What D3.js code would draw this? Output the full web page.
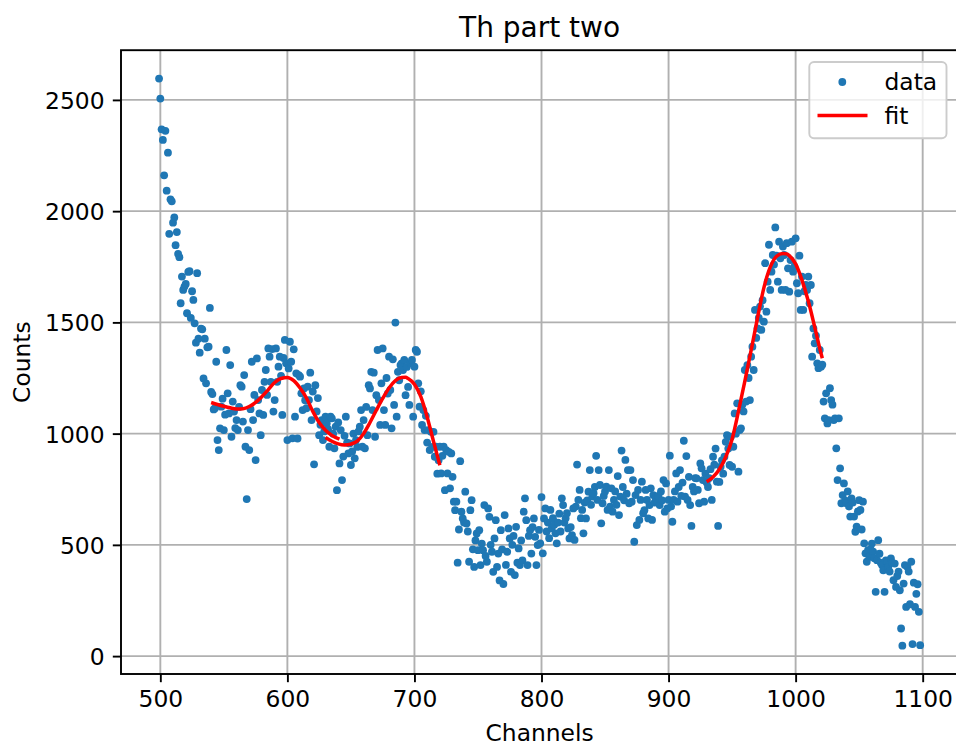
<!DOCTYPE html>
<html>
<head>
<meta charset="utf-8">
<script src="https://cdn.jsdelivr.net/npm/d3@7"></script>
<style>
  html, body { margin: 0; padding: 0; background: #fff; }
  svg { display: block; font-family: "DejaVu Sans", sans-serif; }
</style>
</head>
<body>
<svg id="chart" width="956" height="746"></svg>
<script>
// Spectrum counts, one value per channel starting at channel 499
const firstChannel = 499;
const counts = [
  2596, 2506, 2368, 2320, 2161, 2361, 2092, 2263, 1898, 2053, 2044,
  1948, 1972, 1847, 1906, 1808, 1793, 1586, 1706, 1646, 1661,
  1673, 1541, 1727, 1730, 1520, 1640, 1601, 1496, 1409, 1721,
  1427, 1364, 1472, 1469, 1248, 1427, 1226, 1388, 1391, 1565,
  1187, 1178, 1109, 1114, 1323, 971, 926, 1024, 1121, 1157,
  1016, 1085, 1376, 1181, 1091, 1308, 986, 1144, 1099, 1025,
  1061, 1016, 1120, 1218, 1211, 1054, 1263, 941, 706, 1016,
  926, 1110, 1323, 1061, 1174, 881, 1338, 1151, 1091, 993,
  1196, 1084, 1233, 1286, 1174, 1383, 1346, 1233, 1380, 1099,
  1151, 1383, 1233, 1301, 1346, 1260, 1084, 1340, 1421, 1316,
  971, 1293, 1413, 1323, 979, 1379, 1076, 1271, 978, 1263,
  1256, 1181, 1106, 1203, 1150, 1114, 1211, 1151, 1274, 1061,
  1189, 862, 1218, 1100, 1160, 993, 1040, 1061, 971, 1010,
  1076, 1046, 1020, 941, 1076, 1069, 1000, 934, 1031, 746,
  1050, 866, 1016, 791, 897, 990, 1076, 960, 911, 956,
  859, 920, 1000, 889, 971, 940, 1010, 1031, 1106, 941,
  1061, 934, 1120, 993, 1218, 1203, 1278, 1106, 1274, 986,
  1173, 1376, 1151, 1039, 1226, 1383, 1106, 1039, 1250, 1180,
  1346, 1196, 1024, 1334, 1129, 1499, 1076, 1278, 1240, 1308,
  1316, 1286, 1331, 1173, 1300, 1210, 1129, 1316, 1331, 1076,
  1301, 1376, 1368, 1226, 1121, 1190, 1039, 1106, 1016, 1080,
  960, 1016, 926, 1008, 940, 1008, 896, 941, 820, 880,
  941, 821, 900, 941, 746, 926, 821, 918, 754, 911,
  806, 694, 656, 694, 420, 569, 876, 649, 619, 600,
  739, 596, 560, 424, 656, 701, 480, 401, 520, 551,
  476, 566, 409, 506, 476, 679, 450, 424, 664, 626,
  500, 469, 379, 529, 611, 401, 461, 340, 566, 480,
  324, 634, 410, 469, 574, 529, 379, 500, 540, 364,
  581, 420, 484, 409, 520, 430, 649, 709, 611, 409,
  540, 566, 461, 580, 619, 536, 409, 499, 567, 507,
  715, 462, 619, 664, 560, 600, 530, 657, 574, 620,
  590, 552, 507, 600, 640, 560, 709, 679, 600, 620,
  642, 574, 529, 580, 544, 664, 522, 672, 861, 702,
  747, 620, 657, 552, 690, 619, 700, 739, 836, 680,
  717, 732, 760, 900, 702, 836, 769, 597, 687, 720,
  740, 762, 657, 836, 672, 754, 649, 702, 740, 680,
  809, 634, 717, 924, 760, 700, 882, 730, 836, 687,
  836, 694, 791, 514, 724, 589, 747, 612, 702, 784,
  642, 656, 747, 702, 619, 679, 754, 612, 724, 690,
  709, 694, 720, 679, 740, 700, 791, 649, 776, 664,
  702, 901, 672, 604, 702, 740, 821, 694, 760, 836,
  720, 780, 968, 717, 899, 702, 806, 679, 585, 760,
  740, 800, 799, 747, 687, 866, 844, 791, 694, 820,
  780, 760, 800, 840, 702, 896, 860, 933, 784, 585,
  783, 851, 880, 820, 896, 963, 993, 933, 859, 986,
  851, 941, 1091, 1000, 1136, 829, 1016, 1024, 1130, 1100,
  1286, 1144, 1308, 1250, 1151, 1346, 1391, 1286, 1556, 1430,
  1473, 1520, 1571, 1466, 1600, 1503, 1766, 1548, 1683, 1849,
  1646, 1728, 1803, 1760, 1927, 1800, 1683, 1863, 1788, 1646,
  1841, 1803, 1646, 1856, 1743, 1638, 1780, 1863, 1728, 1751,
  1878, 1676, 1631, 1800, 1556, 1706, 1556, 1640, 1668, 1646,
  1706, 1586, 1668, 1346, 1473, 1406, 1440, 1316, 1294, 1376,
  1301, 1310, 1144, 1069, 1181, 1046, 1061, 1204, 1151, 1130,
  1061, 1069, 934, 791, 1069, 844, 687, 724, 776, 700,
  687, 740, 672, 627, 709, 690, 627, 559, 582, 650,
  701, 657, 569, 694, 507, 462, 424, 476, 446, 480,
  506, 470, 440, 289, 431, 521, 460, 420, 409, 386,
  289, 430, 424, 401, 380, 439, 420, 341, 416, 311,
  360, 380, 296, 124, 47, 326, 409, 221, 400, 380,
  233, 424, 54, 330, 221, 280, 323, 199, 49
];
const channels = counts.map((_, i) => firstChannel + i);

// Fitted peak curves (channel, counts), one segment per fitted region
const fitA_x = [540, 545, 550, 555, 560, 565, 570, 575, 580, 585, 590, 595, 600, 605, 610, 615, 620, 625, 630, 635, 641];
const fitA_y = [1140, 1131, 1123, 1116, 1111, 1112, 1122, 1140, 1167, 1198, 1230, 1248, 1252, 1238, 1205, 1160, 1100, 1050, 1015, 992, 975];
const fitB_x = [630, 635, 640, 645, 650, 655, 660, 665, 670, 675, 680, 685, 690, 693, 695, 700, 705, 710, 715, 720];
const fitB_y = [983, 966, 954, 949, 953, 966, 1000, 1050, 1105, 1158, 1205, 1238, 1252, 1253, 1248, 1222, 1166, 1075, 965, 858];
const fitC_x = [930, 935, 940, 945, 950, 955, 960, 965, 970, 975, 980, 985, 990, 993, 995, 1000, 1005, 1010, 1015, 1020, 1021];
const fitC_y = [784, 805, 840, 895, 975, 1100, 1235, 1375, 1520, 1655, 1748, 1797, 1810, 1808, 1800, 1763, 1690, 1595, 1480, 1360, 1339];

const xTicks = [500, 600, 700, 800, 900, 1000, 1100];
const yTicks = [0, 500, 1000, 1500, 2000, 2500];

const titleText = "Th part two";
const xLabel = "Channels";
const yLabel = "Counts";
const legendLabels = ["data", "fit"];

// Layout
const plot = { left: 121, right: 958.2, top: 50.2, bottom: 674 };
const blue = "#1f77b4";
const red = "#ff0000";
const grid = "#b0b0b0";
const dotR = 3.9;

const svg = d3.select("#chart");

// 5% margins around the data extent
const xExt = d3.extent(channels), yExt = d3.extent(counts);
const xPad = (xExt[1] - xExt[0]) * 0.05, yPad = (yExt[1] - yExt[0]) * 0.05;
const x = d3.scaleLinear().domain([xExt[0] - xPad, xExt[1] + xPad]).range([plot.left, plot.right]);
const y = d3.scaleLinear().domain([yExt[0] - yPad, yExt[1] + yPad]).range([plot.bottom, plot.top]);

const clipId = "plotclip";
svg.append("defs").append("clipPath").attr("id", clipId)
  .append("rect")
  .attr("x", plot.left).attr("y", plot.top)
  .attr("width", plot.right - plot.left).attr("height", plot.bottom - plot.top);

// Grid
const gGrid = svg.append("g").attr("clip-path", `url(#${clipId})`);
gGrid.selectAll("line.gx").data(xTicks).join("line")
  .attr("x1", d => x(d)).attr("x2", d => x(d))
  .attr("y1", plot.top).attr("y2", plot.bottom)
  .attr("stroke", grid).attr("stroke-width", 1.9);
gGrid.selectAll("line.gy").data(yTicks).join("line")
  .attr("y1", d => y(d)).attr("y2", d => y(d))
  .attr("x1", plot.left).attr("x2", plot.right)
  .attr("stroke", grid).attr("stroke-width", 1.9);

// Data points
const gData = svg.append("g").attr("clip-path", `url(#${clipId})`);
gData.selectAll("circle").data(counts).join("circle")
  .attr("cx", (d, i) => x(channels[i]))
  .attr("cy", d => y(d))
  .attr("r", dotR)
  .attr("fill", blue);

// Fit curves
const line = d3.line().x(d => x(d[0])).y(d => y(d[1])).curve(d3.curveMonotoneX);
[[fitA_x, fitA_y], [fitB_x, fitB_y], [fitC_x, fitC_y]].forEach(([xs, ys]) => {
  gData.append("path")
    .datum(xs.map((v, i) => [v, ys[i]]))
    .attr("d", line)
    .attr("fill", "none")
    .attr("stroke", red)
    .attr("stroke-width", 3.5)
    .attr("stroke-linejoin", "round");
});

// Axes
const fontSize = 23.4;
const xAxis = d3.axisBottom(x).tickValues(xTicks).tickSize(8.2).tickPadding(8.2).tickFormat(d3.format("d"));
const yAxis = d3.axisLeft(y).tickValues(yTicks).tickSize(8.2).tickPadding(8.2).tickFormat(d3.format("d"));

const gx = svg.append("g").attr("transform", `translate(0,${plot.bottom})`).call(xAxis);
const gy = svg.append("g").attr("transform", `translate(${plot.left},0)`).call(yAxis);
[gx, gy].forEach(g => {
  g.select(".domain").remove();
  g.selectAll(".tick line").attr("stroke", "#000").attr("stroke-width", 1.9);
  g.selectAll(".tick text").attr("fill", "#000").attr("font-size", fontSize)
    .attr("font-family", "DejaVu Sans, sans-serif");
});
gx.selectAll(".tick text").attr("dy", null).attr("y", 8.2 + 8.2 + 17);
gy.selectAll(".tick text").attr("dy", null).attr("y", 8.5);

// Frame
svg.append("rect")
  .attr("x", plot.left).attr("y", plot.top)
  .attr("width", plot.right - plot.left).attr("height", plot.bottom - plot.top)
  .attr("fill", "none").attr("stroke", "#000").attr("stroke-width", 1.9);

// Title and axis labels
svg.append("text").attr("x", (plot.left + plot.right) / 2).attr("y", 37)
  .attr("text-anchor", "middle").attr("font-size", 28).text(titleText);
svg.append("text").attr("x", (plot.left + plot.right) / 2).attr("y", 741)
  .attr("text-anchor", "middle").attr("font-size", fontSize).text(xLabel);
svg.append("text")
  .attr("transform", `translate(30,${(plot.top + plot.bottom) / 2}) rotate(-90)`)
  .attr("text-anchor", "middle").attr("font-size", fontSize).text(yLabel);

// Legend
const lg = svg.append("g");
lg.append("rect")
  .attr("x", 809.3).attr("y", 62).attr("width", 137.2).attr("height", 76.3)
  .attr("rx", 4.7).attr("ry", 4.7)
  .attr("fill", "#fff").attr("fill-opacity", 0.8)
  .attr("stroke", "#cccccc").attr("stroke-width", 1.9);
lg.append("circle").attr("cx", 842.3).attr("cy", 82).attr("r", dotR).attr("fill", blue);
lg.append("line").attr("x1", 817.5).attr("x2", 867.5).attr("y1", 115.5).attr("y2", 115.5)
  .attr("stroke", red).attr("stroke-width", 3.5);
lg.append("text").attr("x", 884.5).attr("y", 90).attr("font-size", fontSize).text(legendLabels[0]);
lg.append("text").attr("x", 884.5).attr("y", 123.5).attr("font-size", fontSize).text(legendLabels[1]);
</script>
</body>
</html>
